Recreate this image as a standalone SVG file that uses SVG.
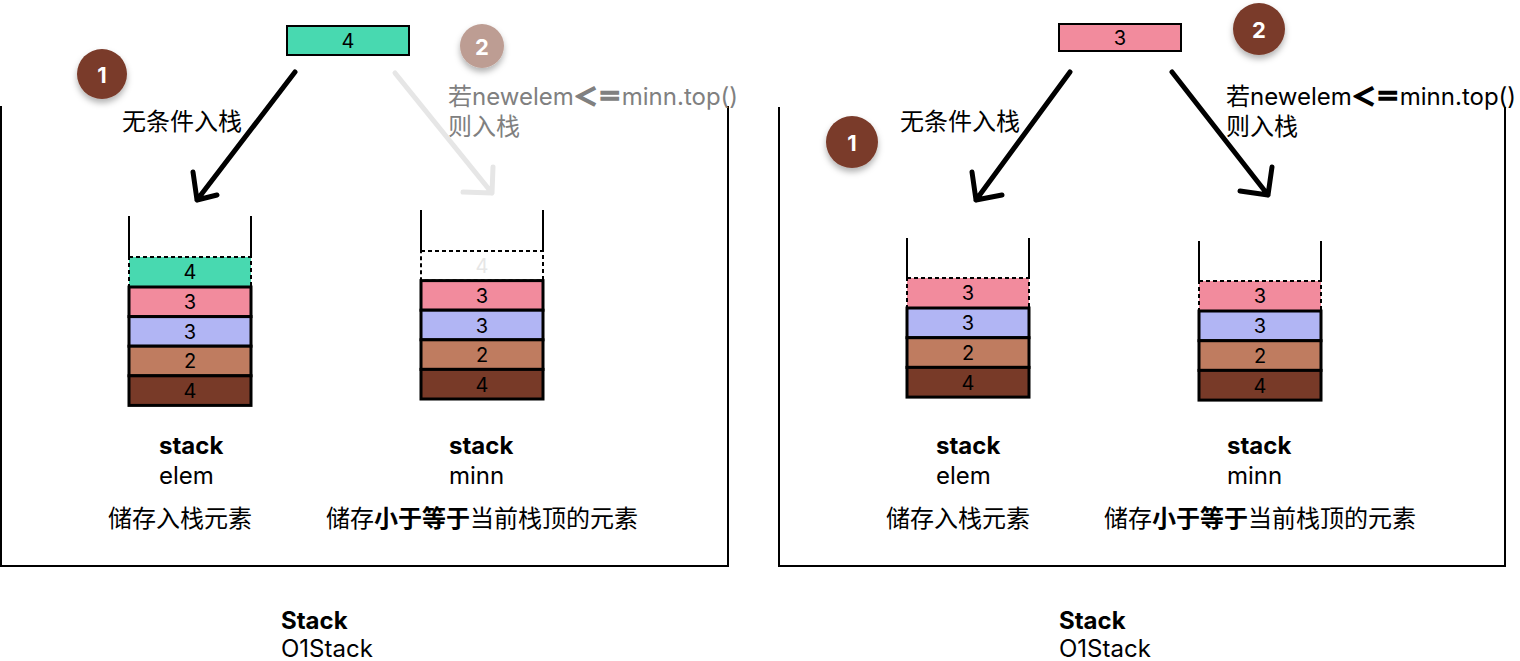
<svg xmlns="http://www.w3.org/2000/svg" width="1520" height="661" viewBox="0 0 1520 661">
<style>
text{font-family:Inter,"Noto Sans","Noto Sans CJK SC",sans-serif;fill:#000}
.lbl{font-size:24px}
.b{font-weight:bold}
.op{font-weight:bold;font-family:"Noto Sans CJK SC",sans-serif;stroke:#000;stroke-width:1.6}
.gray .op{stroke:#808080}
.num{font-size:20px;text-anchor:middle;dominant-baseline:central}
.cnum{font-size:22px;font-weight:bold;fill:#fff;text-anchor:middle;dominant-baseline:central}
.cell{stroke:#000;stroke-width:3}
.dash{stroke:#000;stroke-width:2;stroke-dasharray:4 3}
.wall{stroke:#000;stroke-width:2;fill:none}
.frame{stroke:#000;stroke-width:2;fill:none}
.arrow{fill:none;stroke:#000;stroke-width:5;stroke-linecap:round;stroke-linejoin:round}
.faded{stroke:#e6e6e6}
.teal{fill:#48d9b0}.pink{fill:#f28b9d}.blue{fill:#b1b5f4}.brown{fill:#bf7c60}.dark{fill:#783a28}
.gray{fill:#808080}
</style>
<defs>
<filter id="sh" x="-50%" y="-50%" width="200%" height="200%">
<feDropShadow dx="0" dy="4" stdDeviation="3" flood-color="#000" flood-opacity="0.3"/>
</filter>
</defs>

<!-- containers -->
<g id="container-left"><path class="frame" d="M1,106 V566 H728 V106"/>
<text class="lbl b" x="281" y="629">Stack</text><text class="lbl" x="281" y="657">O1Stack</text></g>
<g id="container-right"><path class="frame" d="M779,107 V566 H1505 V107"/>
<text class="lbl b" x="1059" y="629">Stack</text><text class="lbl" x="1059" y="657">O1Stack</text></g>

<!-- left panel -->
<g id="new-elem-left"><rect x="287" y="26" width="122" height="29" class="teal" stroke="#000" stroke-width="2"/><text class="num" x="348" y="41">4</text></g>
<g id="step1-left"><circle cx="102" cy="74" r="25" fill="#7a3b2a" filter="url(#sh)"/><text class="cnum" x="102" y="75">1</text></g>
<g id="step2-left"><circle cx="482" cy="46" r="22" fill="#bd9d93" filter="url(#sh)"/><text class="cnum" x="482" y="47">2</text></g>
<g id="label-uncond-left"><text class="lbl" x="122" y="130">无条件入栈</text></g>
<g id="label-cond-left"><text class="lbl gray" x="448" y="105">若newelem<tspan class="op">＜＝</tspan>minn.top()</text><text class="lbl gray" x="448" y="135">则入栈</text></g>

<g id="stack-elem-left">
<path class="wall" d="M129,216 V257 M251,216 V257"/>
<rect class="cell teal" x="129" y="257" width="122" height="30" stroke-dasharray="4 3" style="stroke-width:2"/><text class="num" x="190" y="272">4</text>
<rect class="cell pink" x="129" y="287" width="122" height="29.6"/><text class="num" x="190" y="302">3</text>
<rect class="cell blue" x="129" y="316.6" width="122" height="29.6"/><text class="num" x="190" y="331.5">3</text>
<rect class="cell brown" x="129" y="346.2" width="122" height="29.6"/><text class="num" x="190" y="361">2</text>
<rect class="cell dark" x="129" y="375.8" width="122" height="29.6"/><text class="num" x="190" y="391">4</text>
<text class="lbl b" x="159" y="454">stack</text><text class="lbl" x="159" y="484">elem</text>
<text class="lbl" x="108" y="527">储存入栈元素</text>
</g>
<g id="stack-minn-left">
<path class="wall" d="M421,210 V251 M543,210 V251"/>
<rect class="dash" x="421" y="251" width="122" height="29.6" fill="#fff"/><text class="num" x="482" y="266" style="fill:#e6e6e6">4</text>
<rect class="cell pink" x="421" y="280.6" width="122" height="29.6"/><text class="num" x="482" y="296">3</text>
<rect class="cell blue" x="421" y="310.2" width="122" height="29.6"/><text class="num" x="482" y="325.5">3</text>
<rect class="cell brown" x="421" y="339.8" width="122" height="29.6"/><text class="num" x="482" y="355">2</text>
<rect class="cell dark" x="421" y="369.4" width="122" height="29.6"/><text class="num" x="482" y="385">4</text>
<text class="lbl b" x="449" y="454">stack</text><text class="lbl" x="449" y="484">minn</text>
<text class="lbl" x="326" y="527">储存<tspan class="b">小于等于</tspan>当前栈顶的元素</text>
</g>

<!-- right panel -->
<g id="new-elem-right"><rect x="1059" y="24" width="122" height="27" class="pink" stroke="#000" stroke-width="2"/><text class="num" x="1120" y="38">3</text></g>
<g id="step1-right"><circle cx="852" cy="142" r="26" fill="#7a3b2a" filter="url(#sh)"/><text class="cnum" x="852" y="143">1</text></g>
<g id="step2-right"><circle cx="1259" cy="29" r="26" fill="#7a3b2a" filter="url(#sh)"/><text class="cnum" x="1259" y="30">2</text></g>
<g id="label-uncond-right"><text class="lbl" x="900" y="130">无条件入栈</text></g>
<g id="label-cond-right"><text class="lbl" x="1226" y="105">若newelem<tspan class="op">＜＝</tspan>minn.top()</text><text class="lbl" x="1226" y="135">则入栈</text></g>

<g id="stack-elem-right">
<path class="wall" d="M907,238 V278 M1029,238 V278"/>
<rect class="cell pink" x="907" y="278" width="122" height="30" stroke-dasharray="4 3" style="stroke-width:2"/><text class="num" x="968" y="293">3</text>
<rect class="cell blue" x="907" y="308" width="122" height="29.7"/><text class="num" x="968" y="323">3</text>
<rect class="cell brown" x="907" y="337.7" width="122" height="29.7"/><text class="num" x="968" y="353">2</text>
<rect class="cell dark" x="907" y="367.4" width="122" height="29.7"/><text class="num" x="968" y="383">4</text>
<text class="lbl b" x="936" y="454">stack</text><text class="lbl" x="936" y="484">elem</text>
<text class="lbl" x="886" y="527">储存入栈元素</text>
</g>
<g id="stack-minn-right">
<path class="wall" d="M1199,241 V281 M1321,241 V281"/>
<rect class="cell pink" x="1199" y="281" width="122" height="30" stroke-dasharray="4 3" style="stroke-width:2"/><text class="num" x="1260" y="296">3</text>
<rect class="cell blue" x="1199" y="311" width="122" height="29.7"/><text class="num" x="1260" y="326">3</text>
<rect class="cell brown" x="1199" y="340.7" width="122" height="29.7"/><text class="num" x="1260" y="356">2</text>
<rect class="cell dark" x="1199" y="370.4" width="122" height="29.7"/><text class="num" x="1260" y="386">4</text>
<text class="lbl b" x="1227" y="454">stack</text><text class="lbl" x="1227" y="484">minn</text>
<text class="lbl" x="1104" y="527">储存<tspan class="b">小于等于</tspan>当前栈顶的元素</text>
</g>

<!-- connectors -->
<g id="connectors">
<path class="arrow" d="M295,72 L197,200 M193,172 L197,200 L217,195"/>
<path class="arrow faded" d="M395,73 L492,193 M493,167 L492,193 L463,192"/>
<path class="arrow" d="M1070,72 L976,200 M972,172 L976,200 L1002,195"/>
<path class="arrow" d="M1172,72 L1268,195 M1272,167 L1268,195 L1240,191"/>
</g>
</svg>
